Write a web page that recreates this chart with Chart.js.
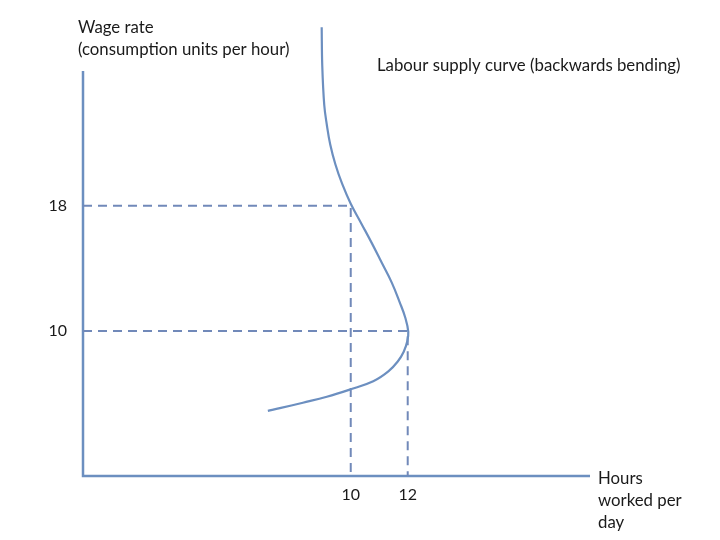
<!DOCTYPE html>
<html>
<head>
<meta charset="utf-8">
<script src="https://cdn.jsdelivr.net/npm/chart.js@4/dist/chart.umd.min.js"></script>
<style>
  body { margin: 0; background: #fff; }
  #wrap { width: 720px; height: 540px; position: relative; }
</style>
</head>
<body>
<div id="wrap"><canvas id="chart"></canvas></div>
<script>
// courbe d'offre de travail (heures, salaire)
const supplyHours = [8.98, 9.0, 9.07, 9.16, 9.28, 9.46, 9.70, 10.0, 10.37, 10.74, 11.09, 11.44, 11.72, 11.91, 12.02, 11.98, 11.86, 11.65, 11.32, 10.79, 9.97, 9.16, 8.32, 7.51, 7.09];
const supplyWage  = [29.4, 26.94, 24.43, 23.17, 21.91, 20.65, 19.39, 18.13, 16.87, 15.61, 14.35, 13.09, 11.83, 10.88, 9.94, 9.31, 8.68, 8.05, 7.42, 6.79, 6.26, 5.80, 5.42, 5.07, 4.90];

// graduations
const xTicks = [10, 12];
const yTicks = [10, 18];

// bornes des axes
const xMin = 0.6, xMax = 18.4;
const yMin = 0.74, yMax = 29.5, yAxisTop = 26.6;

const lineColor = "#6c8fc0";
const dashColor = "#7189b9";
const textColor = "#1a1a1a";
const font = "Lato, 'Open Sans', sans-serif";

// lignes pointillées vers les axes
function dashed(points) {
    return {
        data: points,
        borderColor: dashColor,
        borderWidth: 2,
        borderDash: [9, 6],
        pointRadius: 0,
        tension: 0
    };
}

// axes et textes dessinés à la main
const annotations = {
    id: "annotations",
    beforeDatasetsDraw(chart) {
        const c = chart.ctx;
        const x = chart.scales.x, y = chart.scales.y;
        c.save();
        c.strokeStyle = lineColor;
        c.lineWidth = 2.5;
        c.beginPath();
        c.moveTo(x.getPixelForValue(xMin), y.getPixelForValue(yAxisTop));
        c.lineTo(x.getPixelForValue(xMin), y.getPixelForValue(yMin));
        c.lineTo(x.getPixelForValue(xMax), y.getPixelForValue(yMin));
        c.stroke();
        c.restore();
    },
    afterDraw(chart) {
        const c = chart.ctx;
        c.save();
        c.fillStyle = textColor;
        c.font = "16.8px " + font;
        c.textBaseline = "middle";
        c.textAlign = "left";
        c.fillText("Wage rate", 78, 28);
        c.fillText("(consumption units per hour)", 78, 50);
        c.fillText("Labour supply curve (backwards bending)", 377, 66);
        c.fillText("Hours", 598, 479);
        c.fillText("worked per", 598, 501);
        c.fillText("day", 598, 523);
        c.restore();
    }
};

const ctx = document.getElementById("chart").getContext("2d");

const chart = new Chart(ctx, {
    type: "line",
    data: {
        datasets: [
            {
                data: supplyHours.map((h, i) => ({ x: h, y: supplyWage[i] })),
                borderColor: lineColor,
                borderWidth: 2.2,
                pointRadius: 0,
                tension: 0.4,
                clip: false
            },
            dashed([{ x: xMin, y: yTicks[1] }, { x: xTicks[0], y: yTicks[1] }, { x: xTicks[0], y: yMin }]),
            dashed([{ x: xMin, y: yTicks[0] }, { x: xTicks[1], y: yTicks[0] }, { x: xTicks[1], y: yMin }])
        ]
    },
    options: {
        responsive: true,
        maintainAspectRatio: false,
        animation: false,
        layout: { padding: { top: 20, right: 130, left: 0, bottom: 0 } },
        plugins: {
            legend: { display: false },
            tooltip: { enabled: false }
        },
        scales: {
            x: {
                type: "linear",
                min: xMin,
                max: xMax,
                afterBuildTicks: s => { s.ticks = xTicks.map(v => ({ value: v })); },
                afterFit: s => { s.height = 64; },
                grid: { display: false, drawTicks: false },
                border: { display: false },
                ticks: { color: textColor, font: { family: font, size: 16 }, padding: 9 }
            },
            y: {
                type: "linear",
                min: yMin,
                max: yMax,
                afterBuildTicks: s => { s.ticks = yTicks.map(v => ({ value: v })); },
                afterFit: s => { s.width = 83; },
                grid: { display: false, drawTicks: false },
                border: { display: false },
                ticks: { color: textColor, font: { family: font, size: 16 }, padding: 16 }
            }
        }
    },
    plugins: [annotations]
});
</script>
</body>
</html>
